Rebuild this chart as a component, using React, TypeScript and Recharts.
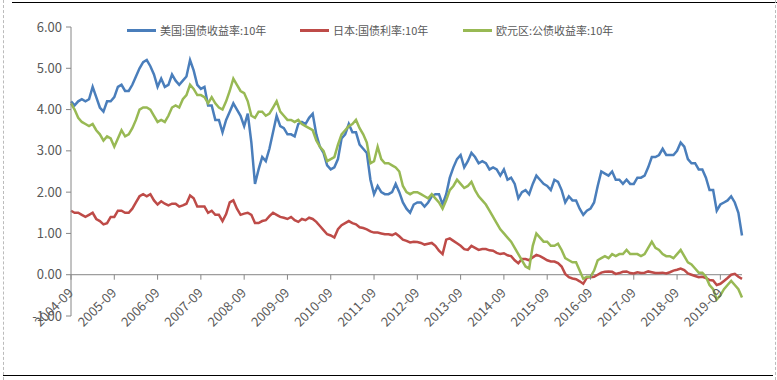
import { LineChart, Line, XAxis, YAxis, ReferenceLine } from 'recharts';

// monthly readings, 2004-09 .. 2020-03
const usYield = [
  4.20, 4.10, 4.20, 4.25,
  4.20, 4.25, 4.55, 4.30, 4.05, 3.95, 4.20, 4.20, 4.30, 4.55, 4.60, 4.45,
  4.45, 4.60, 4.80, 5.00, 5.15, 5.20, 5.05, 4.85, 4.55, 4.75, 4.55, 4.60,
  4.85, 4.70, 4.60, 4.70, 4.80, 5.20, 4.95, 4.60, 4.50, 4.55, 4.10, 4.10,
  3.75, 3.75, 3.45, 3.75, 3.95, 4.15, 4.00, 3.85, 3.60, 3.90, 3.20, 2.20,
  2.55, 2.85, 2.75, 3.05, 3.45, 3.85, 3.60, 3.55, 3.40, 3.40, 3.35, 3.65,
  3.70, 3.65, 3.80, 3.90, 3.40, 3.10, 2.95, 2.65, 2.55, 2.60, 2.80, 3.30,
  3.40, 3.65, 3.45, 3.45, 3.15, 3.05, 2.95, 2.30, 1.95, 2.15, 2.00, 1.95,
  1.95, 2.00, 2.20, 2.00, 1.75, 1.60, 1.50, 1.70, 1.75, 1.75, 1.65, 1.75,
  1.90, 1.95, 1.95, 1.70, 1.95, 2.35, 2.60, 2.80, 2.90, 2.60, 2.75, 2.95,
  2.85, 2.70, 2.75, 2.70, 2.55, 2.60, 2.55, 2.40, 2.55, 2.30, 2.35, 2.20,
  1.85, 2.00, 2.05, 1.95, 2.20, 2.40, 2.30, 2.20, 2.15, 2.05, 2.30, 2.25,
  2.05, 1.75, 1.90, 1.80, 1.80, 1.60, 1.45, 1.55, 1.60, 1.75, 2.15, 2.50,
  2.45, 2.40, 2.50, 2.30, 2.30, 2.20, 2.30, 2.20, 2.20, 2.35, 2.35, 2.40,
  2.60, 2.85, 2.85, 2.90, 3.05, 2.90, 2.90, 2.90, 3.00, 3.20, 3.10, 2.80,
  2.70, 2.70, 2.55, 2.55, 2.35, 2.05, 2.05, 1.55, 1.70, 1.75, 1.80, 1.90,
  1.75, 1.50, 0.95,
];

const jpYield = [
  1.55, 1.50, 1.50, 1.45,
  1.40, 1.45, 1.50, 1.35, 1.30, 1.22, 1.25, 1.40, 1.40, 1.55, 1.55, 1.50,
  1.50, 1.60, 1.75, 1.90, 1.95, 1.90, 1.95, 1.80, 1.70, 1.78, 1.72, 1.68,
  1.72, 1.72, 1.65, 1.68, 1.72, 1.92, 1.85, 1.65, 1.65, 1.65, 1.50, 1.55,
  1.45, 1.45, 1.30, 1.47, 1.75, 1.80, 1.60, 1.45, 1.48, 1.50, 1.45, 1.25,
  1.25, 1.30, 1.32, 1.42, 1.50, 1.45, 1.40, 1.38, 1.35, 1.40, 1.32, 1.28,
  1.35, 1.32, 1.38, 1.35, 1.28, 1.18, 1.08, 0.98, 0.95, 0.90, 1.10, 1.20,
  1.25, 1.30, 1.25, 1.22, 1.15, 1.13, 1.10, 1.05, 1.02, 1.02, 1.00, 0.98,
  0.98, 0.96, 1.00, 0.93, 0.85, 0.82, 0.78, 0.80, 0.79, 0.77, 0.73, 0.75,
  0.77, 0.70, 0.58, 0.50, 0.85, 0.88, 0.82, 0.76, 0.70, 0.62, 0.60, 0.70,
  0.65, 0.60, 0.62, 0.62, 0.59, 0.58, 0.53, 0.50, 0.52, 0.47, 0.45, 0.35,
  0.28, 0.38, 0.38, 0.35, 0.42, 0.48, 0.45, 0.40, 0.35, 0.32, 0.32, 0.28,
  0.20, 0.02, -0.06, -0.09, -0.11, -0.16, -0.22, -0.07, -0.06, -0.05, 0.00, 0.05,
  0.07, 0.08, 0.07, 0.02, 0.04, 0.07, 0.08, 0.04, 0.03, 0.06, 0.04, 0.05,
  0.08, 0.06, 0.04, 0.04, 0.05, 0.03, 0.06, 0.10, 0.12, 0.15, 0.11, 0.03,
  0.00, -0.03, -0.06, -0.05, -0.08, -0.13, -0.14, -0.25, -0.22, -0.15, -0.08, 0.00,
  0.02, -0.05, -0.10,
];

const euYield = [
  4.15, 4.00, 3.80, 3.70,
  3.65, 3.60, 3.65, 3.50, 3.40, 3.25, 3.35, 3.30, 3.10, 3.30, 3.50, 3.35,
  3.40, 3.55, 3.75, 4.00, 4.05, 4.05, 4.00, 3.85, 3.70, 3.75, 3.70, 3.85,
  4.05, 4.10, 4.05, 4.25, 4.35, 4.60, 4.50, 4.35, 4.35, 4.30, 4.15, 4.30,
  4.15, 4.05, 4.00, 4.20, 4.45, 4.75, 4.60, 4.45, 4.40, 4.20, 3.85, 3.80,
  3.95, 3.95, 3.85, 3.90, 4.05, 4.20, 3.95, 3.85, 3.75, 3.75, 3.70, 3.75,
  3.65, 3.60, 3.55, 3.50, 3.25, 3.10, 3.00, 2.75, 2.80, 2.85, 3.15, 3.40,
  3.50, 3.60, 3.65, 3.75, 3.55, 3.40, 3.20, 2.70, 2.75, 3.10, 2.80, 2.70,
  2.70, 2.65, 2.60, 2.50, 2.15, 2.00, 1.95, 2.00, 2.00, 1.95, 1.90, 1.85,
  1.95, 1.85, 1.75, 1.60, 1.80, 2.05, 2.15, 2.30, 2.20, 2.10, 2.15, 2.25,
  2.05, 1.90, 1.80, 1.70, 1.55, 1.40, 1.25, 1.10, 1.00, 0.90, 0.80, 0.65,
  0.50, 0.35, 0.20, 0.15, 0.70, 1.00, 0.90, 0.80, 0.80, 0.70, 0.70, 0.75,
  0.60, 0.40, 0.35, 0.30, 0.30, 0.10, -0.10, -0.05, -0.05, 0.10, 0.35, 0.40,
  0.45, 0.40, 0.50, 0.45, 0.50, 0.50, 0.60, 0.50, 0.50, 0.50, 0.45, 0.50,
  0.65, 0.80, 0.65, 0.60, 0.50, 0.45, 0.45, 0.40, 0.50, 0.60, 0.45, 0.30,
  0.25, 0.15, 0.05, 0.05, -0.05, -0.25, -0.35, -0.60, -0.50, -0.35, -0.25, -0.15,
  -0.25, -0.35, -0.55,
];

const tickLabels = [
  '2004-09', '2005-09', '2006-09', '2007-09', '2008-09', '2009-09', '2010-09', '2011-09',
  '2012-09', '2013-09', '2014-09', '2015-09', '2016-09', '2017-09', '2018-09', '2019-09',
];
const yTicks = [-1, 0, 1, 2, 3, 4, 5, 6];

const SERIES = [
  { key: 'us', name: '美国:国债收益率:10年', color: '#4a7ebb', left: 127 },
  { key: 'jp', name: '日本:国债利率:10年', color: '#be4b48', left: 300 },
  { key: 'eu', name: '欧元区:公债收益率:10年', color: '#98b954', left: 463 },
];

const data = usYield.map((v, i) => ({ i, us: v, jp: jpYield[i], eu: euYield[i] }));
const xTicks = tickLabels.map((_, k) => k * 12);

const FONT = '"Noto Sans CJK SC", "Noto Sans", sans-serif';
const AXIS = '#868686';
const TEXT = '#595959';
// the category axis sits on the 0.00 line, one unit above the plot bottom
const ZERO_UP = 289 / 7;

function DateTick({ x, y, payload }: any) {
  const y0 = y - ZERO_UP;
  const label = tickLabels[Math.round(payload.value / 12)];
  const tx = x + 3;
  const ty = y0 + 19;
  return (
    <g>
      <line x1={x} x2={x} y1={y0} y2={y0 + 5} stroke={AXIS} />
      <text x={tx} y={ty} textAnchor="end" fontSize={13} fill={TEXT} fontFamily={FONT}
        transform={`rotate(-45, ${tx}, ${ty})`}>{label}</text>
    </g>
  );
}

export default function App() {
  return (
    <div style={{ position: 'absolute', left: 0, top: 0, width: 777, height: 380, background: '#fff', fontFamily: FONT }}>
      <div style={{ position: 'absolute', left: 12, right: 0, top: 2, borderTop: '1px solid #000' }} />
      <div style={{ position: 'absolute', left: 3, right: 4, top: 375, borderTop: '1px solid #000' }} />
      <div style={{ position: 'absolute', left: 3, top: 0, bottom: 0, borderLeft: '1px dashed #bbb' }} />
      <div style={{ position: 'absolute', left: 775, top: 0, bottom: 0, borderLeft: '1px dashed #bbb' }} />

      {SERIES.map(s => (
        <div key={s.key} style={{ position: 'absolute', left: s.left, top: 22, display: 'flex', alignItems: 'center', fontSize: 11, color: TEXT, whiteSpace: 'nowrap' }}>
          <span style={{ display: 'inline-block', width: 29, height: 3, background: s.color, marginRight: 4 }} />
          <span>{s.name}</span>
        </div>
      ))}

      <LineChart width={777} height={380} data={data} margin={{ top: 27, right: 35, left: 11, bottom: 34 }}
        style={{ position: 'absolute', left: 0, top: 0 }}>
        <XAxis type="number" dataKey="i" domain={[0, 186]} ticks={xTicks} interval={0}
          axisLine={false} tickLine={false} tickSize={0} tickMargin={0} height={30}
          tick={<DateTick />} />
        <YAxis domain={[-1, 6]} ticks={yTicks} interval={0} width={60}
          tickFormatter={(v: number) => v.toFixed(2)}
          axisLine={{ stroke: AXIS }} tickLine={{ stroke: AXIS }} tickSize={5} tickMargin={4}
          tick={{ fill: TEXT, fontSize: 13, fontFamily: FONT }} />
        <ReferenceLine y={0} stroke={AXIS} />
        {SERIES.map(s => (
          <Line key={s.key} dataKey={s.key} name={s.name} stroke={s.color} strokeWidth={2.5}
            dot={false} type="linear" isAnimationActive={false} />
        ))}
      </LineChart>
    </div>
  );
}
